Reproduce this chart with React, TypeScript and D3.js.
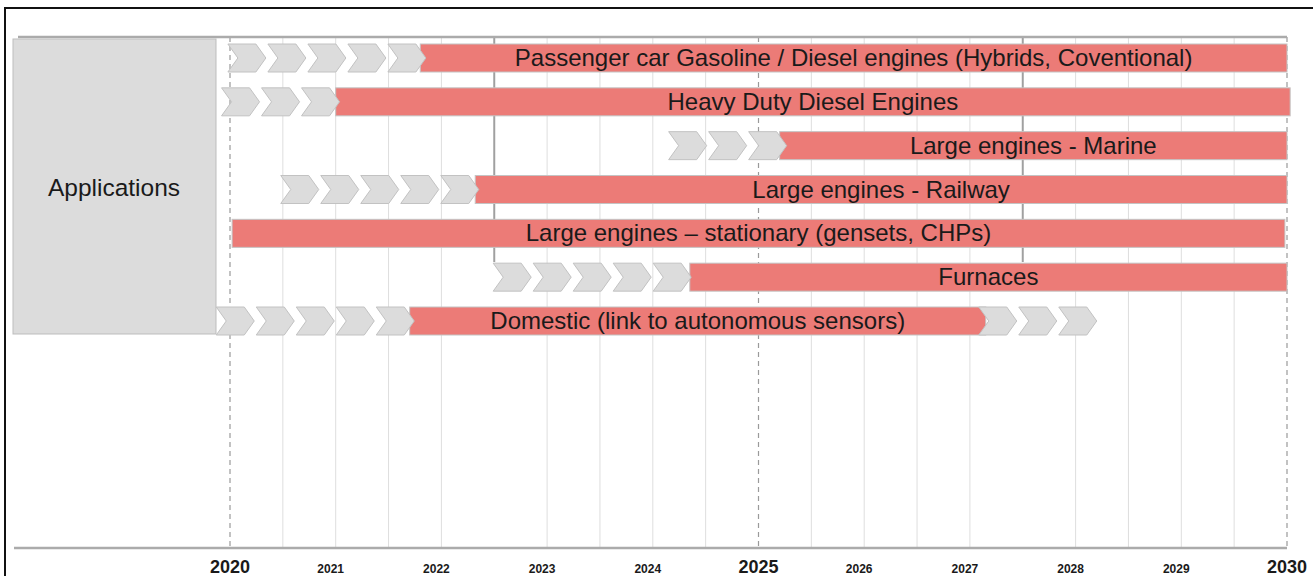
import React from "react";
import * as d3 from "d3";

const width = 1313;
const height = 576;

// timeline rows
const rowLabels = [
  "Passenger car Gasoline / Diesel engines (Hybrids, Coventional)",
  "Heavy Duty Diesel Engines",
  "Large engines - Marine",
  "Large engines - Railway",
  "Large engines \u2013 stationary (gensets, CHPs)",
  "Furnaces",
  "Domestic (link to autonomous sensors)",
];
const barStart = [2021.8, 2021.0, 2025.2, 2022.32, 2020.02, 2024.35, 2021.7];
const barEnd = [2030, 2030.03, 2030, 2030, 2029.98, 2030, 2027.15];
const leadStart = [2019.98, 2019.92, 2024.15, 2020.48, 0, 2022.49, 2019.87];
const leadCount = [5, 3, 3, 5, 0, 5, 5];
const trailCount = [0, 0, 0, 0, 0, 0, 3];

const years = d3.range(2020, 2031);
const majorYears = [2020, 2025, 2030];
const darkLines = [2022.5, 2027.5];

const x = d3.scaleLinear().domain([2020, 2030]).range([230, 1287]);
const y = d3.scalePoint<string>().domain(rowLabels).range([58, 321]);

const rowH = 28;
const chevW = 40;
const chevTip = 10;

const red = "#ec7b77";
const grey = "#dcdcdc";
const font = "'Liberation Sans', Arial, sans-serif";
const narrow = "'Liberation Sans Narrow', 'Arial Narrow', 'Liberation Sans', Arial, sans-serif";

function chevron(x0: number, cy: number) {
  const t = cy - rowH / 2;
  const b = cy + rowH / 2;
  const w = chevW - 2;
  return [
    [x0, t],
    [x0 + w - chevTip, t],
    [x0 + w, cy],
    [x0 + w - chevTip, b],
    [x0, b],
    [x0 + chevTip, cy],
  ]
    .map((p) => p.join(","))
    .join(" ");
}

export default function App() {
  const grid = d3.range(2020, 2030.01, 0.5);
  return (
    <svg width={width} height={height} style={{ display: "block", position: "absolute", left: 0, top: 0 }}>
      <rect width={width} height={height} fill="#fff" />
      {/* frame */}
      <path d={`M5,${height + 5} L5,8 L${width + 5},8`} fill="none" stroke="#111" strokeWidth={2} />

      {/* grid */}
      {grid.map((g) => {
        const major = majorYears.includes(g);
        const dark = darkLines.includes(g);
        return (
          <line
            key={g}
            x1={x(g)}
            x2={x(g)}
            y1={37}
            y2={dark ? 262 : 548}
            stroke={major ? "#9a9a9a" : dark ? "#a0a0a0" : "#dedede"}
            strokeWidth={major ? 1.2 : dark ? 2 : 1}
            strokeDasharray={major ? "5,4" : undefined}
          />
        );
      })}
      <line x1={18} x2={1287} y1={37} y2={37} stroke="#ababab" strokeWidth={2.5} />
      <line x1={14} x2={1287} y1={548} y2={548} stroke="#ababab" strokeWidth={2.5} />

      {/* Applications box */}
      <rect x={13} y={39} width={203} height={295} fill={grey} stroke="#bdbdbd" strokeWidth={1} />
      <text x={114} y={196} textAnchor="middle" fontFamily={font} fontSize={24.5} fill="#1a1a1a">
        Applications
      </text>

      {/* rows */}
      {rowLabels.map((label, i) => {
        const cy = y(label) as number;
        const x0 = x(barStart[i]);
        const x1 = x(barEnd[i]);
        const lead = d3.range(leadCount[i]).map((k) => x(leadStart[i]) + k * chevW);
        const trail = d3.range(trailCount[i]).map((k) => x1 - 7 + k * chevW);
        return (
          <g key={label}>
            <rect x={x0} y={cy - rowH / 2} width={x1 - x0} height={rowH} fill={red} stroke="#c4c4c4" strokeWidth={1} />
            {lead.concat(trail).map((cx, k) => (
              <polygon key={k} points={chevron(cx, cy)} fill={grey} stroke="#c2c2c2" strokeWidth={1} />
            ))}
            <text x={(x0 + x1) / 2} y={cy + 8} textAnchor="middle" fontFamily={font} fontSize={24} fill="#1a1a1a">
              {label}
            </text>
          </g>
        );
      })}

      {/* year labels */}
      {years.map((yr) => {
        const major = majorYears.includes(yr);
        return (
          <text
            key={yr}
            x={x(yr) + (major ? 0 : -5)}
            y={573}
            textAnchor="middle"
            fontFamily={narrow}
            fontWeight="bold"
            fontSize={major ? 18 : 12}
            fill="#1a1a1a"
          >
            {yr}
          </text>
        );
      })}
    </svg>
  );
}
